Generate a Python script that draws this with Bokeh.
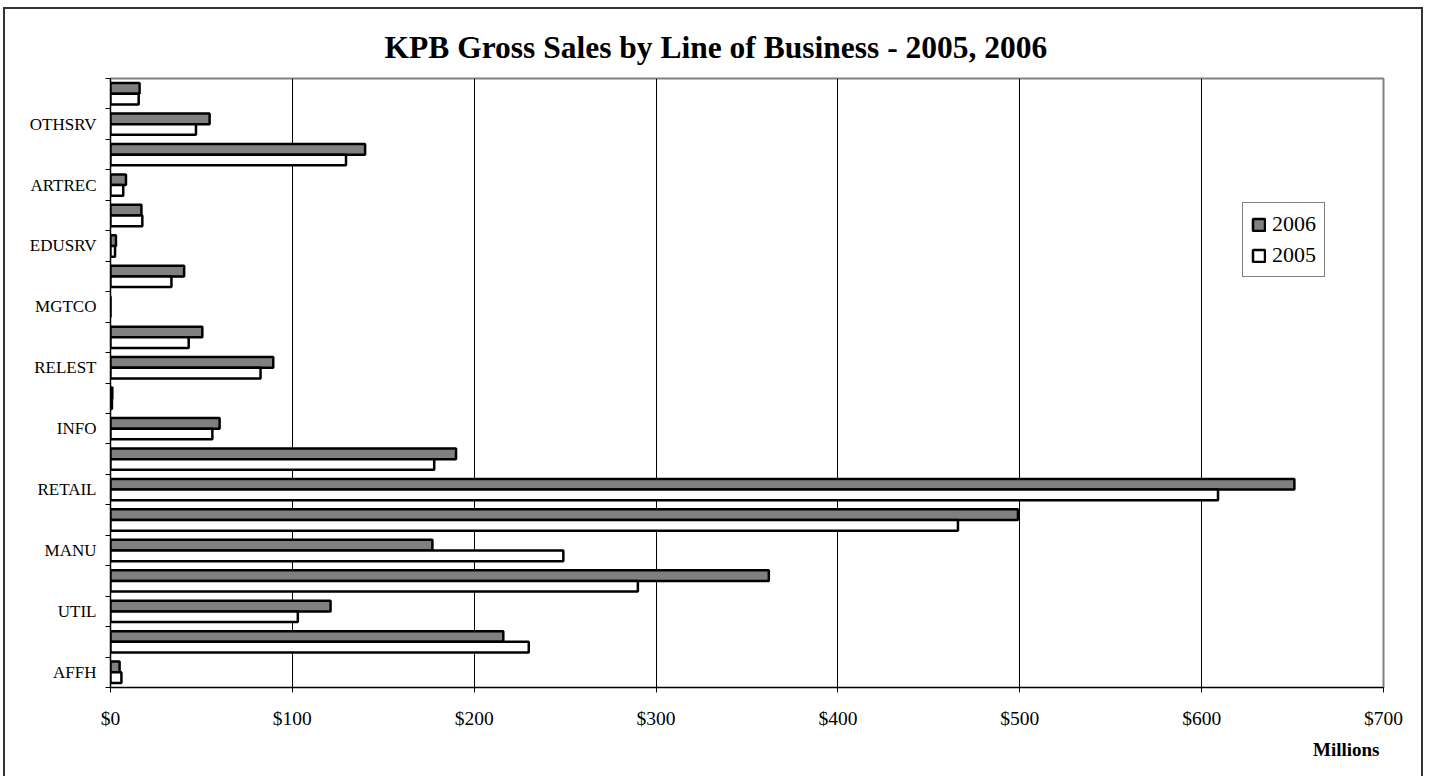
from bokeh.plotting import figure
from bokeh.models import (ColumnDataSource, FixedTicker, NumeralTickFormatter, Legend,
                          LegendItem, Title, Range1d)
from bokeh.transform import dodge
from bokeh.embed import file_html
from bokeh.resources import INLINE

# ---- data (bottom to top) ----
categories = ["AFFH", "MINING", "UTIL", "CONSTR", "MANU", "WHOLE", "RETAIL", "TRANS",
              "INFO", "FIN", "RELEST", "PROF", "MGTCO", "ADMIN", "EDUSRV", "HEALTH",
              "ARTREC", "ACCOM", "OTHSRV", "PUBADM"]
shown_labels = ["AFFH", "UTIL", "MANU", "RETAIL", "INFO", "RELEST", "MGTCO",
                "EDUSRV", "ARTREC", "OTHSRV"]
sales_2006 = [5, 216, 121, 362, 177, 499, 651, 190, 60, 1, 89.5, 50.5, 0, 40.5, 3,
              17, 8.5, 140, 54.5, 16]
sales_2005 = [6, 230, 103, 290, 249, 466, 609, 178, 56, 0.8, 82.5, 43, 0, 33.5, 2.5,
              17.5, 7, 129.5, 47, 15.5]
x_ticks = [0, 100, 200, 300, 400, 500, 600, 700]
series_names = ["2006", "2005"]

idx = [i + 0.5 for i in range(len(categories))]
src = ColumnDataSource(dict(idx=idx, cat=categories, s06=sales_2006, s05=sales_2005))

SERIF = "Liberation Serif"

p = figure(frame_width=1273, frame_height=609,
           x_range=Range1d(0, 700), y_range=Range1d(0, len(categories)),
           output_backend="svg", toolbar_location=None,
           min_border_left=105, min_border_right=38, min_border_top=69,
           min_border_bottom=89)

p.styles = {"border-top": "2px solid #333333", "border-left": "2px solid #333333",
            "border-right": "2px solid #333333", "margin-left": "3px", "margin-top": "7px"}

p.title.text = "KPB Gross Sales by Line of Business - 2005, 2006"
p.title.text_font = SERIF
p.title.text_font_size = "31.5px"
p.title.text_font_style = "bold"
p.title.text_color = "black"
p.title.align = "left"
p.title.offset = 274
p.title.standoff = 27

bh = 0.35
r06 = p.hbar(y=dodge("idx", bh / 2, range=p.y_range), right="s06", left=0, height=bh,
             source=src, fill_color="#808080", line_color="black", line_width=2.5)
r05 = p.hbar(y=dodge("idx", -bh / 2, range=p.y_range), right="s05", left=0, height=bh,
             source=src, fill_color="white", line_color="black", line_width=2.5)

# x axis
p.xaxis.ticker = FixedTicker(ticks=x_ticks, minor_ticks=[])
p.xaxis.formatter = NumeralTickFormatter(format="$0")
p.xaxis.major_label_text_font = SERIF
p.xaxis.major_label_text_font_size = "19.5px"
p.xaxis.major_label_text_color = "black"
p.xaxis.major_tick_out = 5
p.xaxis.major_tick_in = 0
p.xaxis.major_label_standoff = 15
p.xaxis.axis_line_color = "black"
p.xaxis.major_tick_line_color = "black"

# y axis
label_pos = [idx[categories.index(c)] for c in shown_labels]
p.yaxis.ticker = FixedTicker(ticks=label_pos, minor_ticks=list(range(len(categories) + 1)))
p.yaxis.major_label_overrides = {pos: c for pos, c in zip(label_pos, shown_labels)}
p.yaxis.major_label_text_font = SERIF
p.yaxis.major_label_text_font_size = "17px"
p.yaxis.major_label_text_color = "black"
p.yaxis.major_tick_out = 0
p.yaxis.major_tick_in = 0
p.yaxis.minor_tick_out = 5
p.yaxis.minor_tick_in = 0
p.yaxis.minor_tick_line_color = "black"
p.yaxis.major_label_standoff = 9
p.yaxis.axis_line_color = "black"

# grid
p.xgrid.ticker = FixedTicker(ticks=x_ticks[1:-1])
p.xgrid.grid_line_color = "black"
p.xgrid.grid_line_width = 1
p.ygrid.grid_line_color = None

p.outline_line_color = "#808080"
p.outline_line_width = 2

p.add_layout(Title(text="Millions", align="right", text_font=SERIF, text_font_size="19px",
                   text_font_style="bold", text_color="black", standoff=10, offset=4),
             "below")

legend = Legend(items=[LegendItem(label=series_names[0], renderers=[r06]),
                       LegendItem(label=series_names[1], renderers=[r05])],
                location=(1132, 410), label_text_font=SERIF, label_text_font_size="22px",
                label_text_color="black",
                glyph_width=15, glyph_height=15, label_height=22, label_standoff=6,
                spacing=5, padding=8, margin=0, border_line_color="black",
                border_line_width=1, background_fill_alpha=1)
p.add_layout(legend)

open("out.html", "w").write(file_html(p, INLINE))
